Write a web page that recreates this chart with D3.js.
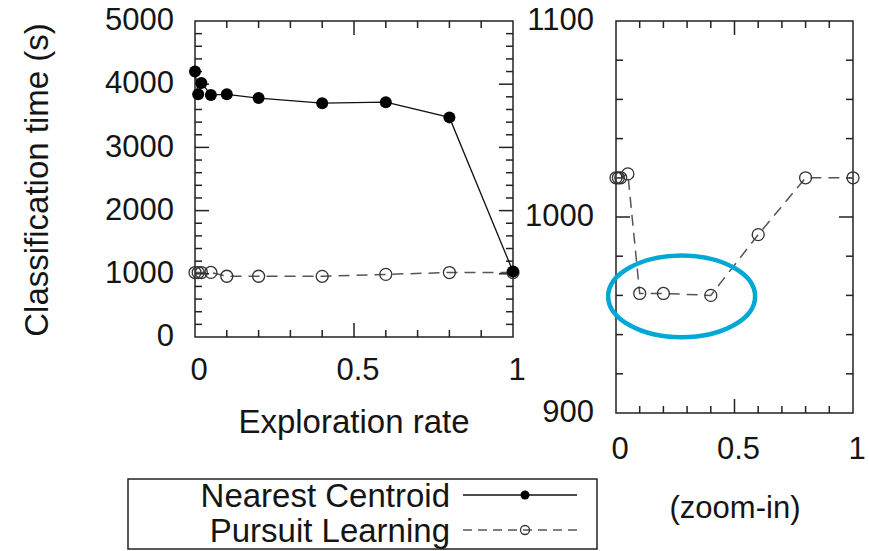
<!DOCTYPE html>
<html>
<head>
<meta charset="utf-8">
<script src="https://cdn.jsdelivr.net/npm/d3@7"></script>
<style>
  body { margin: 0; background: #fff; }
  text { font-family: "Liberation Sans", Arial, sans-serif; fill: #151515; }
</style>
</head>
<body>
<div id="chart"></div>
<script>
// exploration rates (x) and classification times
const rates = [0, 0.01, 0.02, 0.05, 0.1, 0.2, 0.4, 0.6, 0.8, 1.0];
const nearestCentroid = [4200, 3840, 4020, 3830, 3840, 3780, 3700, 3715, 3475, 1035];
const pursuitLearning = [1020, 1020, 1020, 1022, 961, 961, 960, 991, 1020, 1020];

const xTicks = [0, 0.5, 1];
const leftYTicks = [0, 1000, 2000, 3000, 4000, 5000];
const rightYTicks = [900, 1000, 1100];
const seriesNames = ['Nearest Centroid', 'Pursuit Learning'];
// highlighted region in the zoom-in panel (centre x, centre y, half width, half height)
const highlight = { x: 0.277, y: 959.5, rx: 0.31, ry: 20.8 };

const W = 869, H = 551;
const svg = d3.select('#chart').append('svg').attr('width', W).attr('height', H);

const ncData = rates.map((r, i) => ({ x: r, y: nearestCentroid[i] }));
const plData = rates.map((r, i) => ({ x: r, y: pursuitLearning[i] }));

function drawPanel(opt) {
    const x = d3.scaleLinear().domain([0, 1]).range([opt.x0, opt.x1]);
    const y = d3.scaleLinear().domain(opt.yDomain).range([opt.y1, opt.y0]);
    const g = svg.append('g');

    // frame
    g.append('rect')
        .attr('x', opt.x0).attr('y', opt.y0)
        .attr('width', opt.x1 - opt.x0).attr('height', opt.y1 - opt.y0)
        .attr('fill', 'none').attr('stroke', '#222').attr('stroke-width', 1.5);

    // ticks pointing inward on all four sides
    const tickG = g.append('g').attr('stroke', '#222').attr('stroke-width', 1.5);
    const xs = d3.range(0, 1.0001, 0.1);
    xs.forEach(v => {
        const major = xTicks.some(t => Math.abs(t - v) < 1e-6);
        const len = major ? 14 : 7;
        if (v > 0.001 && v < 0.999) {
            tickG.append('line').attr('x1', x(v)).attr('x2', x(v)).attr('y1', opt.y1).attr('y2', opt.y1 - len);
            tickG.append('line').attr('x1', x(v)).attr('x2', x(v)).attr('y1', opt.y0).attr('y2', opt.y0 + len);
        }
    });
    const ys = d3.range(opt.yDomain[0], opt.yDomain[1] + 0.001, opt.yMinor);
    ys.forEach(v => {
        const major = opt.yTicks.includes(v);
        const len = major ? 14 : 7;
        if (v > opt.yDomain[0] && v < opt.yDomain[1]) {
            tickG.append('line').attr('x1', opt.x0).attr('x2', opt.x0 + len).attr('y1', y(v)).attr('y2', y(v));
            tickG.append('line').attr('x1', opt.x1).attr('x2', opt.x1 - len).attr('y1', y(v)).attr('y2', y(v));
        }
    });

    // tick labels
    g.selectAll('.xl').data(xTicks).join('text')
        .attr('x', d => x(d) + 4).attr('y', opt.xLabelY)
        .attr('text-anchor', 'middle').attr('dominant-baseline', 'middle')
        .style('font-size', '31px')
        .text(d => d);
    g.selectAll('.yl').data(opt.yTicks).join('text')
        .attr('x', opt.yLabelX).attr('y', d => y(d) + 1)
        .attr('text-anchor', 'end').attr('dominant-baseline', 'middle')
        .style('font-size', '31px')
        .text(d => d);

    // Pursuit Learning: dashed grey with open circles
    g.append('path').datum(plData)
        .attr('d', d3.line().x(d => x(d.x)).y(d => y(d.y)))
        .attr('fill', 'none').attr('stroke', '#555').attr('stroke-width', 1.5)
        .attr('stroke-dasharray', '11,7');
    g.selectAll('.pl').data(plData).join('circle')
        .attr('cx', d => x(d.x)).attr('cy', d => y(d.y)).attr('r', 6)
        .attr('fill', 'none').attr('stroke', '#333').attr('stroke-width', 1.3);

    if (opt.showNearest) {
        g.append('path').datum(ncData)
            .attr('d', d3.line().x(d => x(d.x)).y(d => y(d.y)))
            .attr('fill', 'none').attr('stroke', '#111').attr('stroke-width', 1.3);
        g.selectAll('.nc').data(ncData).join('circle')
            .attr('cx', d => x(d.x)).attr('cy', d => y(d.y)).attr('r', 6)
            .attr('fill', '#000');
    }
    return { x, y };
}

const left = drawPanel({
    x0: 195, x1: 513, y0: 21, y1: 337,
    yDomain: [0, 5000], yTicks: leftYTicks, yMinor: 200,
    xLabelY: 372, yLabelX: 174, showNearest: true
});

const right = drawPanel({
    x0: 616, x1: 853, y0: 21, y1: 413,
    yDomain: [900, 1100], yTicks: rightYTicks, yMinor: 20,
    xLabelY: 451, yLabelX: 594, showNearest: false
});

// blue highlight ellipse
svg.append('ellipse')
    .attr('cx', right.x(highlight.x)).attr('cy', right.y(highlight.y))
    .attr('rx', right.x(highlight.rx) - right.x(0))
    .attr('ry', right.y(900) - right.y(900 + highlight.ry))
    .attr('fill', 'none').attr('stroke', '#00a8d6').attr('stroke-width', 4.5);

// axis titles
svg.append('text')
    .attr('transform', 'translate(39,180) rotate(-90)')
    .attr('text-anchor', 'middle').attr('dominant-baseline', 'middle')
    .style('font-size', '33px')
    .text('Classification time (s)');
svg.append('text')
    .attr('x', 354).attr('y', 433)
    .attr('text-anchor', 'middle')
    .style('font-size', '33px')
    .text('Exploration rate');
svg.append('text')
    .attr('x', 735).attr('y', 518)
    .attr('text-anchor', 'middle')
    .style('font-size', '31px')
    .text('(zoom-in)');

// legend
const lg = svg.append('g');
lg.append('rect')
    .attr('x', 128).attr('y', 479).attr('width', 469).attr('height', 70)
    .attr('fill', '#fff').attr('stroke', '#222').attr('stroke-width', 1.5);
const legendRows = [
    { name: seriesNames[0], y: 495, dash: null, fill: '#000', stroke: '#111', r: 4.5 },
    { name: seriesNames[1], y: 530, dash: '9,6', fill: 'none', stroke: '#555', r: 4.5 }
];
legendRows.forEach(d => {
    lg.append('text')
        .attr('x', 450).attr('y', d.y).attr('dy', '0.35em')
        .attr('text-anchor', 'end')
        .style('font-size', '33px')
        .text(d.name);
    lg.append('line')
        .attr('x1', 463).attr('x2', 577).attr('y1', d.y).attr('y2', d.y)
        .attr('stroke', d.stroke).attr('stroke-width', 1.3)
        .attr('stroke-dasharray', d.dash);
    lg.append('circle')
        .attr('cx', 525).attr('cy', d.y).attr('r', d.r)
        .attr('fill', d.fill).attr('stroke', d.fill === 'none' ? '#333' : 'none').attr('stroke-width', 1.3);
});
</script>
</body>
</html>
